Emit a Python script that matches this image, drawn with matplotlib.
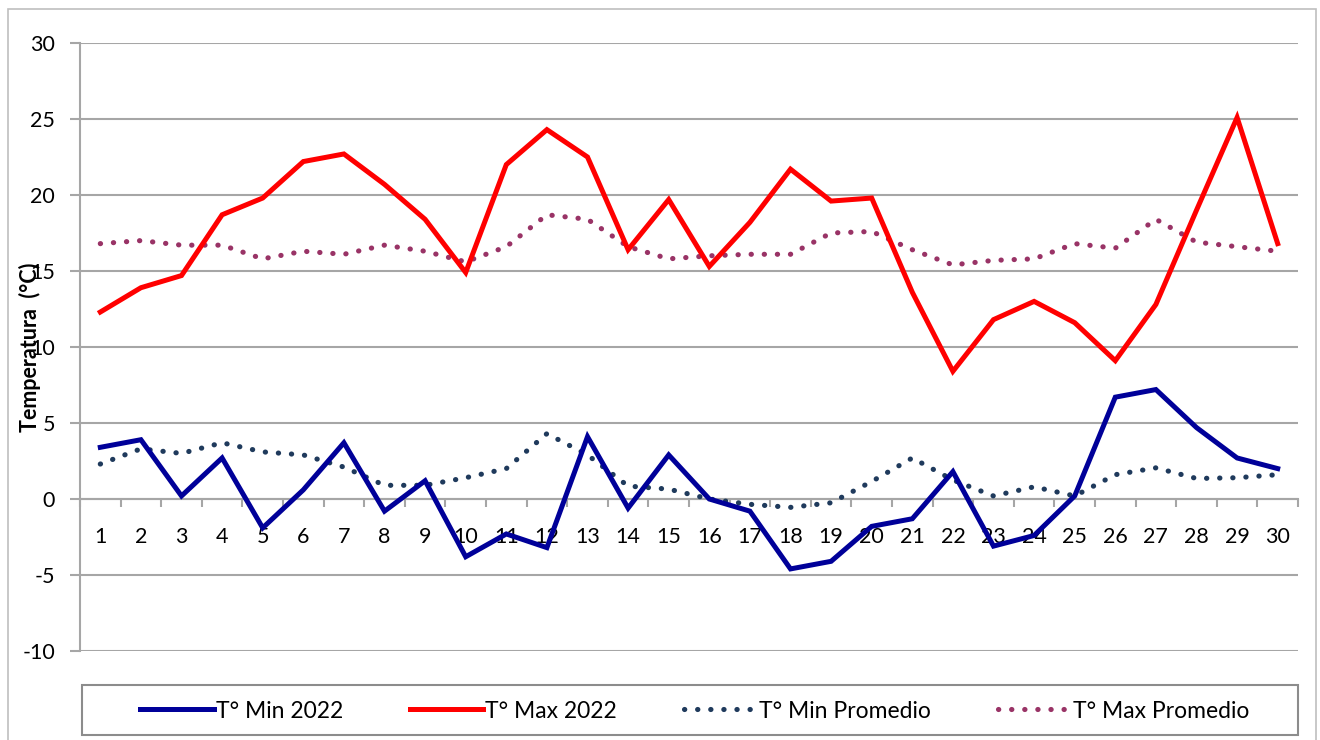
import matplotlib
matplotlib.use('Agg')
import matplotlib.pyplot as plt
from matplotlib.patches import Rectangle
from matplotlib.ticker import FixedLocator, NullFormatter

plt.rcParams['font.family'] = ['Lato', 'DejaVu Sans']
plt.rcParams['axes.unicode_minus'] = False

DAYS = list(range(1, 31))
T_MIN_2022 = [3.4, 3.9, 0.2, 2.7, -1.9, 0.6, 3.7, -0.8, 1.2, -3.8,
              -2.3, -3.2, 4.1, -0.6, 2.9, 0.0, -0.8, -4.6, -4.1, -1.8,
              -1.3, 1.8, -3.1, -2.4, 0.2, 6.7, 7.2, 4.7, 2.7, 2.0]
T_MAX_2022 = [12.3, 13.9, 14.7, 18.7, 19.8, 22.2, 22.7, 20.7, 18.4, 14.9,
              22.0, 24.3, 22.5, 16.4, 19.7, 15.3, 18.2, 21.7, 19.6, 19.8,
              13.6, 8.4, 11.8, 13.0, 11.6, 9.1, 12.8, 19.0, 25.1, 16.8]
T_MIN_PROM = [2.3, 3.3, 3.0, 3.7, 3.1, 2.9, 2.1, 0.9, 0.9, 1.4,
              2.0, 4.3, 2.9, 0.85, 0.65, 0.0, -0.35, -0.55, -0.25, 1.15,
              2.7, 1.25, 0.2, 0.8, 0.2, 1.6, 2.05, 1.35, 1.4, 1.6]
T_MAX_PROM = [16.8, 17.0, 16.7, 16.7, 15.8, 16.3, 16.1, 16.7, 16.3, 15.6,
              16.6, 18.7, 18.4, 16.6, 15.8, 16.0, 16.1, 16.1, 17.5, 17.6,
              16.4, 15.4, 15.7, 15.8, 16.8, 16.5, 18.4, 16.9, 16.6, 16.3]
Y_TICKS = [-10, -5, 0, 5, 10, 15, 20, 25, 30]

GRID = '#a6a6a6'

fig = plt.figure(figsize=(13.2, 7.4), dpi=100)
ax = fig.add_axes([80 / 1320, 1 - 651 / 740, 1218 / 1320, 608 / 740])

dots = (0, (0.05, 2.5))
l1, = ax.plot(DAYS, T_MIN_2022, color='#000099', lw=3.6, label='T° Min 2022',
              solid_joinstyle='miter', zorder=4)
l2, = ax.plot(DAYS, T_MAX_2022, color='#ff0000', lw=3.6, label='T° Max 2022',
              solid_joinstyle='miter', zorder=4)
l3, = ax.plot(DAYS, T_MIN_PROM, color='#1f3a5c', lw=3.7, ls=dots,
              dash_capstyle='round', label='T° Min Promedio', zorder=3)
l4, = ax.plot(DAYS, T_MAX_PROM, color='#993366', lw=3.7, ls=dots,
              dash_capstyle='round', label='T° Max Promedio', zorder=3)

ax.set_xlim(0.5, 30.5)
ax.set_ylim(-10, 30)
ax.set_yticks(Y_TICKS)
ax.yaxis.grid(True, color=GRID, lw=1.5)
ax.set_axisbelow(True)

for s in ['top', 'right']:
    ax.spines[s].set_visible(False)
ax.spines['left'].set_color(GRID)
ax.spines['left'].set_linewidth(1.5)
ax.spines['bottom'].set_position(('data', 0))
ax.spines['bottom'].set_color(GRID)
ax.spines['bottom'].set_linewidth(1.5)

ax.xaxis.set_major_locator(FixedLocator(DAYS))
ax.set_xticklabels([str(d) for d in DAYS])
ax.xaxis.set_minor_locator(FixedLocator([d + 0.5 for d in range(0, 31)]))
ax.xaxis.set_minor_formatter(NullFormatter())
ax.tick_params(axis='x', which='major', length=0, pad=20, labelsize=15.5)
ax.tick_params(axis='x', which='minor', length=6, width=1.5, color=GRID)
ax.tick_params(axis='y', length=7, width=1.5, color=GRID, labelsize=15.5, pad=11)

# y label sits over the tick numbers, as in the source chart
fig.text(30 / 1320, 1 - 347 / 740, 'Temperatura  (°C)', rotation=90,
         ha='center', va='center', fontsize=15.5, fontweight='bold')

# legend box
fig.patches.append(Rectangle((82 / 1320, 1 - 735 / 740), 1216 / 1320, 50 / 740,
                             transform=fig.transFigure, fill=False,
                             edgecolor='#8c8c8c', lw=1.5))
fig.legend(handles=[l1, l2, l3, l4], loc='center',
           bbox_to_anchor=(695 / 1320, 1 - 711 / 740), ncol=4, frameon=False,
           fontsize=16.5, handlelength=3.2, handletextpad=0.1, columnspacing=2.9)

# outer chart border
fig.patches.append(Rectangle((8 / 1320, -0.05), 1308 / 1320, 1.05 - 9 / 740,
                             transform=fig.transFigure, fill=False,
                             edgecolor='#bfbfbf', lw=1.2))

fig.savefig('out.png', dpi=100)
